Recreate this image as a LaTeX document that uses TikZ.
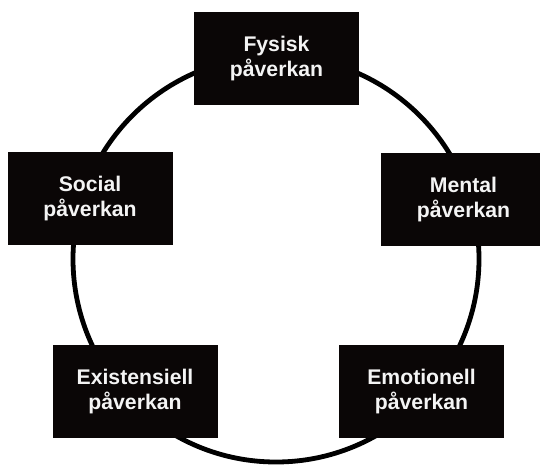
\documentclass[tikz,border=0pt]{standalone}
\usepackage{fontspec}
\setmainfont{Liberation Sans}
\definecolor{boxfill}{HTML}{0A0606}
\definecolor{boxtext}{HTML}{F4F4F4}
\tikzset{
  pbox/.style={fill=boxfill, text=boxtext, minimum width=165pt, minimum height=93pt,
    inner sep=0pt, align=center, font=\fontsize{21.2}{25}\selectfont\bfseries},
  ring/.style={line width=4.8pt, draw=black}
}
\begin{document}
\begin{tikzpicture}[x=1pt,y=-1pt]
\clip (0,0) rectangle (540,467);
\useasboundingbox (0,0) rectangle (540,467);
\fill[white] (0,0) rectangle (540,467);
\coordinate (c) at (276,259);
\draw[ring] (c) circle[radius=203pt];
\node[pbox] (fys) at (276.5,58.5) {Fysisk\\påverkan};
\node[pbox] (soc) at (90,198.5) {Social\\påverkan};
\node[pbox] (men) at (463.5,199.5) {Mental\\påverkan};
\node[pbox] (exi) at (135,391.5) {Existensiell\\påverkan};
\node[pbox] (emo) at (421.5,391.5) {Emotionell\\påverkan};
\end{tikzpicture}
\end{document}
